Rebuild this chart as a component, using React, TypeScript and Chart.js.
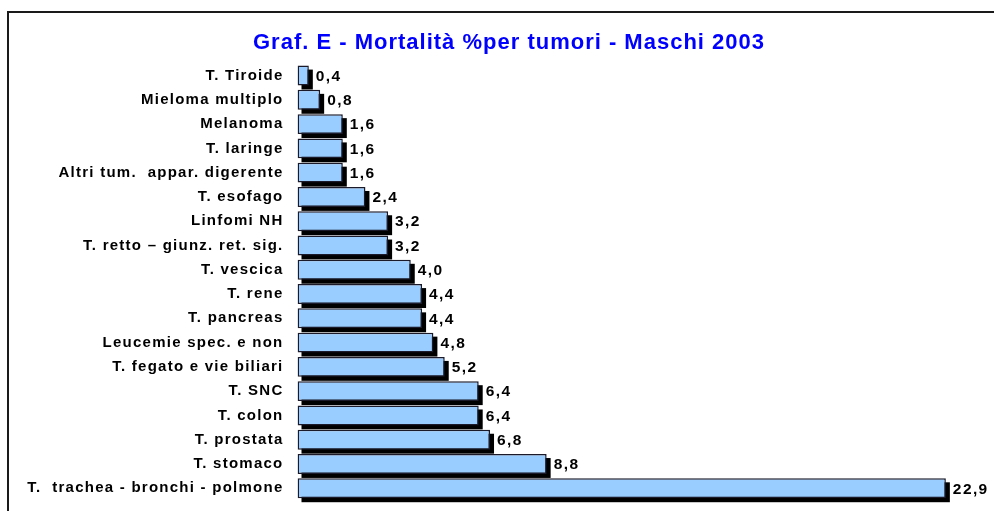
import React, { useEffect, useRef } from "react";
import { Chart, registerables } from "chart.js";

Chart.register(...registerables);

const TITLE = "Graf. E - Mortalità %per tumori - Maschi 2003";

const categories: string[] = [
  "T. Tiroide",
  "Mieloma multiplo",
  "Melanoma",
  "T. laringe",
  "Altri tum.  appar. digerente",
  "T. esofago",
  "Linfomi NH",
  "T. retto – giunz. ret. sig.",
  "T. vescica",
  "T. rene",
  "T. pancreas",
  "Leucemie spec. e non",
  "T. fegato e vie biliari",
  "T. SNC",
  "T. colon",
  "T. prostata",
  "T. stomaco",
  "T.  trachea - bronchi - polmone",
];

const values: number[] = [
  0.4, 0.8, 1.6, 1.6, 1.6, 2.4, 3.2, 3.2, 4.0, 4.4, 4.4, 4.8, 5.2, 6.4, 6.4, 6.8, 8.8, 22.9,
];

const FONT = '"Liberation Sans", Arial, sans-serif';

const decorPlugin = {
  id: "decor",
  beforeDraw(chart: any) {
    const ctx = chart.ctx as CanvasRenderingContext2D;
    ctx.save();
    ctx.fillStyle = "#ffffff";
    ctx.fillRect(0, 0, chart.width, chart.height);
    ctx.strokeStyle = "#1a1a1a";
    ctx.lineWidth = 2;
    ctx.strokeRect(8, 12, 2000, 2000);
    (ctx as any).letterSpacing = "1px";
    ctx.font = `bold 22px ${FONT}`;
    ctx.fillStyle = "#0000ff";
    ctx.textAlign = "center";
    ctx.textBaseline = "alphabetic";
    ctx.fillText(TITLE, 509, 49);
    ctx.restore();
    (ctx as any).letterSpacing = "1.25px";
  },
  beforeDatasetsDraw(chart: any) {
    const ctx = chart.ctx as CanvasRenderingContext2D;
    const meta = chart.getDatasetMeta(0);
    ctx.save();
    ctx.fillStyle = "#000000";
    meta.data.forEach((bar: any) => {
      const p = bar.getProps(["x", "y", "base", "height"], true);
      const x0 = Math.min(p.base, p.x);
      const w = Math.abs(p.x - p.base);
      ctx.fillRect(x0 + 4, p.y - p.height / 2 + 4, w, p.height);
    });
    ctx.restore();
  },
  afterDatasetsDraw(chart: any) {
    const ctx = chart.ctx as CanvasRenderingContext2D;
    const meta = chart.getDatasetMeta(0);
    ctx.save();
    (ctx as any).letterSpacing = "1.4px";
    ctx.font = `bold 15.5px ${FONT}`;
    ctx.fillStyle = "#000000";
    ctx.textAlign = "left";
    ctx.textBaseline = "middle";
    meta.data.forEach((bar: any, i: number) => {
      const p = bar.getProps(["x", "y"], true);
      const txt = values[i].toFixed(1).replace(".", ",");
      ctx.fillText(txt, p.x + 7, p.y + 1);
    });
    ctx.restore();
  },
};

export default function App() {
  const ref = useRef<HTMLCanvasElement | null>(null);
  useEffect(() => {
    if (!ref.current) return;
    const chart = new Chart(ref.current, {
      type: "bar",
      data: {
        labels: categories,
        datasets: [
          {
            data: values,
            backgroundColor: "#99ccff",
            borderColor: "#1a1a2a",
            borderWidth: 1.5,
            borderSkipped: false,
            barPercentage: 0.82,
            categoryPercentage: 1,
          },
        ],
      },
      options: {
        indexAxis: "y",
        responsive: false,
        animation: false,
        events: [],
        layout: { padding: { left: 0, right: 17, top: 63.4, bottom: 10.6 } },
        plugins: {
          legend: { display: false },
          title: { display: false },
          tooltip: { enabled: false },
        },
        scales: {
          x: { display: false, min: 0, max: 24 },
          y: {
            grid: { display: false, drawTicks: false },
            border: { display: false },
            ticks: {
              color: "#000000",
              font: { family: FONT, size: 15, weight: "bold" },
              padding: 14,
              autoSkip: false,
            },
            afterFit(scale: any) {
              scale.width = 297.5;
              scale.paddingTop = 0;
              scale.paddingBottom = 0;
            },
          },
        },
      },
      plugins: [decorPlugin],
    });
    return () => chart.destroy();
  }, []);
  return (
    <canvas
      ref={ref}
      width={994}
      height={511}
      style={{ position: "fixed", left: 0, top: 0, display: "block" }}
    />
  );
}
